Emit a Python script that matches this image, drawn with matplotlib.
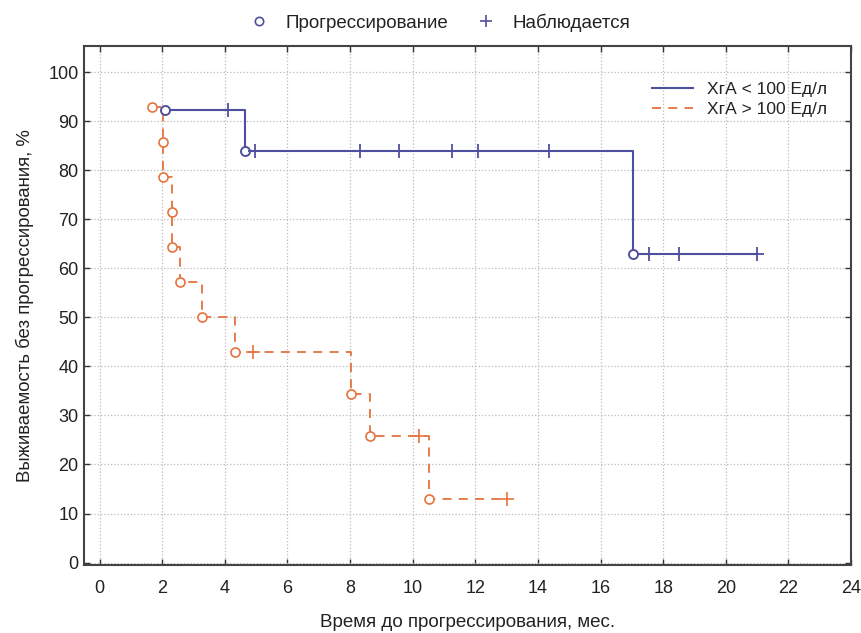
import matplotlib.pyplot as plt
from matplotlib.lines import Line2D

plt.rcParams['font.family'] = ['Liberation Sans', 'DejaVu Sans']

# ХгА < 100 Ед/л
t_low = [2.1, 4.63, 17.04]
s_low = [92.3, 83.9, 62.9]
c_low_t = [4.09, 4.95, 8.33, 9.57, 11.27, 12.1, 14.36, 17.55, 18.5, 21.0]
c_low_s = [92.3, 83.9, 83.9, 83.9, 83.9, 83.9, 83.9, 62.9, 62.9, 62.9]

# ХгА > 100 Ед/л
t_high = [1.66, 2.04, 2.04, 2.3, 2.3, 2.58, 3.26, 4.34, 8.04, 8.65, 10.53]
s_high = [92.9, 85.7, 78.6, 71.4, 64.3, 57.1, 50.0, 42.9, 34.3, 25.7, 12.9]
c_high_t = [4.9, 10.2, 13.0]
c_high_s = [42.9, 25.7, 12.9]

blue = '#4f4f9f'
orange = '#e5733f'
txt = '#222222'

fig = plt.figure(figsize=(8.62, 6.33), dpi=100)
ax = fig.add_axes([0.0974, 0.1074, 0.8898, 0.8199])

# ступенчатые кривые
ax.step(t_low + [c_low_t[-1]], s_low + [s_low[-1]], where='post',
        color=blue, lw=1.5, label='ХгА < 100 Ед/л')
ax.step(t_high + [c_high_t[-1]], s_high + [s_high[-1]], where='post',
        color=orange, lw=1.3, ls=(0, (5, 4)), label='ХгА > 100 Ед/л')

# события и цензурированные
ax.plot(t_low, s_low, 'o', mfc='white', mec=blue, mew=1.4, ms=6.5, ls='none')
ax.plot(c_low_t, c_low_s, '+', color=blue, mew=1.3, ms=10, ls='none')
ax.plot(t_high, s_high, 'o', mfc='white', mec=orange, mew=1.2, ms=6.5, ls='none')
ax.plot(c_high_t, c_high_s, '+', color=orange, mew=1.2, ms=10, ls='none')

ax.set_xlim(-0.5, 24)
ax.set_ylim(-0.5, 105.3)
ax.set_xticks(range(0, 25, 2))
ax.set_yticks(range(0, 101, 10))
ax.tick_params(direction='in', length=4, width=1, colors='#333333',
               labelcolor=txt, labelsize=13, top=True, right=True)
ax.tick_params(axis='x', pad=11)
ax.tick_params(axis='y', pad=4)
ax.grid(True, ls=':', color='#bbbbbb', lw=0.9)
for sp in ax.spines.values():
    sp.set_color('#444444')
    sp.set_linewidth(1.5)

ax.set_xlabel('Время до прогрессирования, мес.', fontsize=13.5, labelpad=12, color=txt)
ax.set_ylabel('Выживаемость без прогрессирования, %', fontsize=13.4, labelpad=10, color=txt)

leg = ax.legend(loc='upper right', bbox_to_anchor=(0.985, 0.955), frameon=False,
                fontsize=12.5, handlelength=2.4, borderaxespad=0.3, labelspacing=0.3)
for t in leg.get_texts():
    t.set_color(txt)

handles = [Line2D([], [], marker='o', ls='none', mfc='white', mec=blue, ms=6, mew=1.2),
           Line2D([], [], marker='+', ls='none', color=blue, ms=8, mew=1.2)]
top = fig.legend(handles, ['Прогрессирование', 'Наблюдается'], loc='upper center',
                 bbox_to_anchor=(0.505, 1.005), ncol=2, frameon=False, fontsize=13.5,
                 handletextpad=0.4, columnspacing=1.0)
for t in top.get_texts():
    t.set_color(txt)

fig.savefig('out.png', dpi=100)
